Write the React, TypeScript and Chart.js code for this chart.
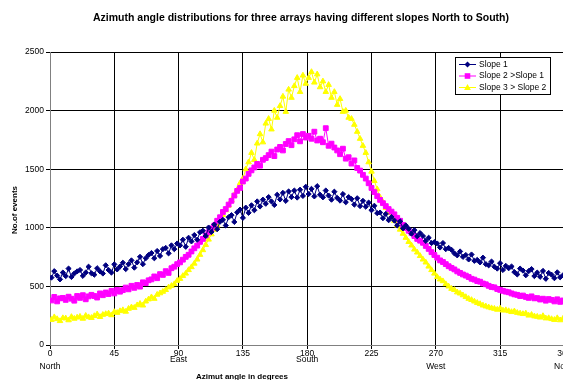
import React, { useEffect, useRef } from 'react';
import { Chart, registerables } from 'chart.js';

Chart.register(...registerables);

const TITLE = 'Azimuth angle distributions for three arrays having different slopes North to South)';
const X_TITLE = 'Azimut angle in degrees';
const Y_TITLE = 'No.of events';

const angles = [
  1, 3, 5, 7, 9, 11, 13, 15, 17, 19, 21, 23, 25, 27, 29, 31, 33, 35, 37, 39,
  41, 43, 45, 47, 49, 51, 53, 55, 57, 59, 61, 63, 65, 67, 69, 71, 73, 75, 77, 79,
  81, 83, 85, 87, 89, 91, 93, 95, 97, 99, 101, 103, 105, 107, 109, 111, 113, 115, 117, 119,
  121, 123, 125, 127, 129, 131, 133, 135, 137, 139, 141, 143, 145, 147, 149, 151, 153, 155, 157, 159,
  161, 163, 165, 167, 169, 171, 173, 175, 177, 179, 181, 183, 185, 187, 189, 191, 193, 195, 197, 199,
  201, 203, 205, 207, 209, 211, 213, 215, 217, 219, 221, 223, 225, 227, 229, 231, 233, 235, 237, 239,
  241, 243, 245, 247, 249, 251, 253, 255, 257, 259, 261, 263, 265, 267, 269, 271, 273, 275, 277, 279,
  281, 283, 285, 287, 289, 291, 293, 295, 297, 299, 301, 303, 305, 307, 309, 311, 313, 315, 317, 319,
  321, 323, 325, 327, 329, 331, 333, 335, 337, 339, 341, 343, 345, 347, 349, 351, 353, 355, 357, 359,
];

const slope1 = [
  575, 630, 592, 560, 618, 588, 652, 580, 610, 628,
  640, 590, 618, 668, 612, 600, 655, 628, 610, 680,
  640, 618, 688, 645, 670, 702, 648, 690, 722, 660,
  705, 752, 690, 740, 768, 785, 740, 802, 760, 818,
  828, 782, 850, 818, 866, 850, 898, 838, 915, 884,
  938, 898, 962, 975, 930, 1002, 965, 1028, 988, 1052,
  1068, 1020, 1090, 1108, 1050, 1132, 1155, 1085, 1172, 1128,
  1192, 1150, 1225, 1182, 1240, 1205, 1262, 1225, 1195, 1282,
  1242, 1298, 1230, 1310, 1262, 1318, 1258, 1325, 1272, 1350,
  1288, 1332, 1268, 1355, 1282, 1260, 1318, 1275, 1240, 1308,
  1255, 1232, 1288, 1218, 1262, 1245, 1198, 1252, 1185, 1230,
  1180, 1215, 1150, 1188, 1125, 1130, 1082, 1118, 1065, 1092,
  1062, 1020, 1055, 995, 1020, 992, 950, 980, 928, 955,
  930, 888, 915, 870, 878, 866, 832, 870, 818, 828,
  812, 782, 765, 798, 752, 768, 730, 772, 718, 726,
  705, 745, 690, 680, 712, 668, 652, 698, 640, 675,
  655, 670, 622, 602, 652, 635, 595, 630, 648, 588,
  618, 582, 632, 565, 615, 600, 570, 620, 578, 595,
];

const slope2 = [
  380, 410, 372, 398, 402, 385, 412, 395, 378, 418,
  402, 425, 390, 415, 428, 418, 405, 440, 425, 448,
  435, 462, 440, 470, 455, 468, 490, 475, 505, 488,
  512, 498, 535, 528, 552, 560, 585, 570, 605, 598,
  630, 615, 655, 668, 690, 705, 728, 752, 770, 798,
  825, 848, 880, 905, 935, 962, 995, 1020, 1060, 1090,
  1135, 1160, 1198, 1230, 1275, 1315, 1340, 1395, 1420, 1460,
  1490, 1515, 1545, 1530, 1580, 1595, 1620, 1650, 1612, 1668,
  1690, 1660, 1715, 1740, 1705, 1755, 1790, 1738, 1800, 1770,
  1785, 1760, 1820, 1745, 1760, 1730, 1850, 1700, 1718, 1685,
  1660, 1628, 1675, 1590, 1602, 1548, 1575, 1510, 1488, 1452,
  1420, 1380, 1340, 1305, 1270, 1238, 1210, 1185, 1160, 1138,
  1115, 1085, 1060, 1025, 998, 975, 955, 930, 905, 890,
  872, 845, 820, 792, 768, 745, 722, 708, 690, 672,
  658, 645, 628, 615, 602, 592, 580, 565, 558, 545,
  540, 525, 518, 505, 495, 492, 478, 470, 462, 455,
  450, 440, 432, 428, 418, 422, 410, 402, 415, 398,
  400, 388, 395, 378, 392, 385, 372, 390, 368, 380,
];

const slope3 = [
  215, 238, 222, 205, 230, 228, 212, 240, 225, 235,
  242, 225, 250, 238, 232, 248, 262, 240, 258, 265,
  270, 255, 282, 275, 290, 298, 285, 310, 322, 318,
  340, 352, 338, 372, 390, 408, 395, 430, 442, 455,
  470, 492, 505, 520, 548, 565, 590, 610, 640, 665,
  695, 730, 770, 810, 855, 900, 945, 985, 1020, 1065,
  1110, 1150, 1190, 1235, 1280, 1325, 1380, 1420, 1500, 1560,
  1640, 1580, 1720, 1800, 1730, 1890, 1930, 1840, 2000, 1940,
  2040, 2120, 1990, 2180, 2110, 2210, 2280, 2160, 2300, 2230,
  2280, 2330, 2240, 2310, 2200, 2250, 2160, 2220, 2110, 2160,
  2050, 2100, 1990, 2000, 1940, 1930, 1880, 1820, 1760, 1700,
  1640, 1560, 1480, 1400, 1330, 1260, 1220, 1170, 1130, 1090,
  1060, 1020, 985, 950, 915, 880, 850, 815, 790, 760,
  730, 705, 670, 640, 610, 580, 560, 545, 520, 500,
  480, 470, 450, 440, 425, 410, 395, 385, 372, 360,
  350, 338, 330, 322, 315, 310, 302, 312, 295, 298,
  290, 282, 288, 275, 270, 265, 270, 252, 258, 245,
  242, 235, 248, 228, 230, 222, 215, 230, 212, 225,
];

const seriesNames = ['Slope 1', 'Slope 2 >Slope 1', 'Slope 3 > Slope 2'];
const seriesColors = ['#000080', '#FF00FF', '#FFFF00'];
const seriesMarkers = ['rectRot', 'rect', 'triangle'];

const xTickValues = [0, 45, 90, 135, 180, 225, 270, 315, 360];
const xTickNames = ['North', '', 'East', '', 'South', '', 'West', '', 'North'];
const xTickNameRow = [2, 0, 1, 0, 1, 0, 2, 0, 2];

const FONT = '"Liberation Sans", Arial, Helvetica, sans-serif';
const W = 600;
const H = 380;

function drawMarker(ctx: CanvasRenderingContext2D, style: string, x: number, y: number, color: string) {
  ctx.fillStyle = color;
  ctx.strokeStyle = color;
  ctx.beginPath();
  if (style === 'rectRot') {
    const r = 3;
    ctx.moveTo(x, y - r);
    ctx.lineTo(x + r, y);
    ctx.lineTo(x, y + r);
    ctx.lineTo(x - r, y);
  } else if (style === 'rect') {
    const r = 2.8;
    ctx.rect(x - r, y - r, 2 * r, 2 * r);
  } else {
    const r = 3.4;
    ctx.moveTo(x, y - r);
    ctx.lineTo(x + r, y + r * 0.75);
    ctx.lineTo(x - r, y + r * 0.75);
  }
  ctx.closePath();
  ctx.fill();
}

const textPlugin = {
  id: 'customTexts',
  afterDraw(chart: any) {
    const ctx: CanvasRenderingContext2D = chart.ctx;
    const xs = chart.scales.x;
    const ca = chart.chartArea;
    ctx.save();
    ctx.fillStyle = '#000';
    ctx.textAlign = 'center';
    ctx.textBaseline = 'middle';

    ctx.font = `bold 10.5px ${FONT}`;
    ctx.fillText(TITLE, 301, 18);

    ctx.font = `8.5px ${FONT}`;
    xTickValues.forEach((v, i) => {
      const px = xs.getPixelForValue(v);
      ctx.fillText(String(v), px, ca.bottom + 9);
      const name = xTickNames[i];
      if (name) {
        const dy = xTickNameRow[i] === 1 ? 15 : 22;
        ctx.fillText(name, px, ca.bottom + dy);
      }
    });

    ctx.font = `bold 8px ${FONT}`;
    ctx.fillText(X_TITLE, 242, 377);

    ctx.save();
    ctx.translate(15, 210);
    ctx.rotate(-Math.PI / 2);
    ctx.fillText(Y_TITLE, 0, 0);
    ctx.restore();

    // legend box
    const bx = 455.5, by = 57.5, bw = 95, bh = 37;
    ctx.fillStyle = '#fff';
    ctx.fillRect(bx, by, bw, bh);
    ctx.strokeStyle = '#000';
    ctx.lineWidth = 1;
    ctx.strokeRect(bx, by, bw, bh);
    const rows = [64.5, 76, 87.5];
    seriesNames.forEach((name, i) => {
      const y = rows[i];
      ctx.strokeStyle = seriesColors[i];
      ctx.lineWidth = 1;
      ctx.beginPath();
      ctx.moveTo(459, y);
      ctx.lineTo(476, y);
      ctx.stroke();
      drawMarker(ctx, seriesMarkers[i], 467.5, y, seriesColors[i]);
      ctx.fillStyle = '#000';
      ctx.textAlign = 'left';
      ctx.font = `8.5px ${FONT}`;
      ctx.fillText(name, 479, y);
    });
    ctx.restore();
  },
};

export default function App() {
  const canvasRef = useRef<HTMLCanvasElement | null>(null);

  useEffect(() => {
    if (!canvasRef.current) return;
    const seriesData = [slope1, slope2, slope3];
    const radii = [2.6, 3.4, 3.2];
    const datasets = seriesData.map((vals, i) => ({
      label: seriesNames[i],
      data: vals.map((v, k) => ({ x: angles[k], y: v })),
      borderColor: seriesColors[i],
      backgroundColor: seriesColors[i],
      borderWidth: 1,
      pointStyle: seriesMarkers[i] as any,
      pointRadius: radii[i],
      pointBorderWidth: 1,
      pointBackgroundColor: seriesColors[i],
      pointBorderColor: seriesColors[i],
      tension: 0,
      fill: false,
    }));

    const chart = new Chart(canvasRef.current, {
      type: 'line',
      data: { datasets },
      options: {
        animation: false,
        responsive: false,
        devicePixelRatio: 1,
        layout: { padding: { left: 0, top: 52, right: W - 564.4, bottom: 0 } },
        plugins: {
          legend: { display: false },
          title: { display: false },
          tooltip: { enabled: false },
        },
        scales: {
          x: {
            type: 'linear',
            min: 0,
            max: 360,
            ticks: { stepSize: 45, display: false },
            grid: { color: '#000', lineWidth: 1, drawTicks: true, tickLength: 4, tickColor: '#000' },
            border: { color: '#808080', width: 1 },
            afterFit: (s: any) => { s.height = 35; },
          },
          y: {
            min: 0,
            max: 2500,
            ticks: {
              stepSize: 500,
              color: '#000',
              font: { family: FONT, size: 8.5 },
              padding: 2,
              callback: (v: any) => String(v),
            },
            grid: { color: '#000', lineWidth: 1, drawTicks: true, tickLength: 4, tickColor: '#000' },
            border: { color: '#808080', width: 1 },
            afterFit: (s: any) => { s.width = 50; },
          },
        },
      } as any,
      plugins: [textPlugin],
    });
    return () => chart.destroy();
  }, []);

  return (
    <div style={{ position: 'absolute', left: 0, top: 0, width: 563, height: 380, overflow: 'hidden', background: '#fff' }}>
      <canvas ref={canvasRef} width={W} height={H} style={{ width: W, height: H, display: 'block' }} />
    </div>
  );
}
